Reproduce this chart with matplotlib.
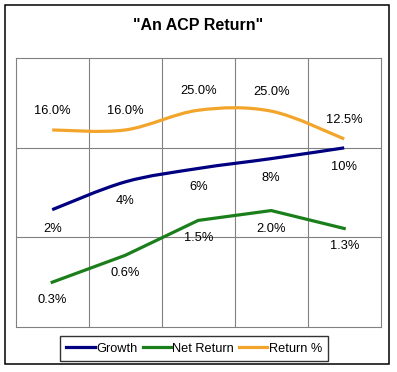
import numpy as np
import matplotlib
matplotlib.use("Agg")
import matplotlib.pyplot as plt
from matplotlib.patches import Rectangle
from matplotlib.path import Path
from matplotlib.patches import PathPatch

plt.rcParams['font.family'] = ['Liberation Sans', 'DejaVu Sans']

categories = ["1", "2", "3", "4", "5"]
# plotted positions (chart units)
growth = [1.31, 1.62, 1.77, 1.88, 2.00]
net_return = [0.50, 0.80, 1.19, 1.30, 1.10]
return_pct = [2.20, 2.20, 2.42, 2.41, 2.10]
# data labels
growth_labels = ["2%", "4%", "6%", "8%", "10%"]
net_labels = ["0.3%", "0.6%", "1.5%", "2.0%", "1.3%"]
return_labels = ["16.0%", "16.0%", "25.0%", "25.0%", "12.5%"]

C_GROWTH = "#000080"
C_NET = "#1a7f1a"
C_RET = "#F2A52A"

W, H = 397, 372
fig = plt.figure(figsize=(W / 100, H / 100), dpi=100)
ax = fig.add_axes([15.7 / W, 1 - 327 / H, (380.7 - 15.7) / W, (327 - 58.3) / H])

x = np.arange(len(categories))


def smooth_path(xs, ys):
    xs = np.asarray(xs, float); ys = np.asarray(ys, float)
    P = np.column_stack([xs, ys])
    n = len(P)
    verts = [P[0]]
    codes = [Path.MOVETO]
    for i in range(n - 1):
        p0 = P[i - 1] if i > 0 else P[i]
        p1 = P[i]
        p2 = P[i + 1]
        p3 = P[i + 2] if i + 2 < n else P[i + 1]
        c1 = p1 + (p2 - p0) / 6.0
        c2 = p2 - (p3 - p1) / 6.0
        verts += [c1, c2, p2]
        codes += [Path.CURVE4] * 3
    return Path(verts, codes)


lw = 2.3
ax.add_patch(PathPatch(smooth_path(x, return_pct), fill=False, edgecolor=C_RET, lw=lw, capstyle='butt', zorder=3))
ax.add_patch(PathPatch(smooth_path(x, growth), fill=False, edgecolor=C_GROWTH, lw=lw, capstyle='butt', zorder=3))
ax.plot(x, net_return, color=C_NET, lw=lw, solid_joinstyle='miter', zorder=3)

# legend proxies
ax.plot([], [], color=C_GROWTH, lw=lw, label="Growth")
ax.plot([], [], color=C_NET, lw=lw, label="Net Return")
ax.plot([], [], color=C_RET, lw=lw, label="Return %")

fs = 9.3
for xi, yi, t in zip(x, return_pct, return_labels):
    ax.annotate(t, (xi, yi), xytext=(0, 19), textcoords='offset pixels', ha='center', va='center', fontsize=fs)
for xi, yi, t in zip(x, growth, growth_labels):
    ax.annotate(t, (xi, yi), xytext=(0, -19), textcoords='offset pixels', ha='center', va='center', fontsize=fs)
for xi, yi, t in zip(x, net_return, net_labels):
    ax.annotate(t, (xi, yi), xytext=(0, -18), textcoords='offset pixels', ha='center', va='center', fontsize=fs)

ax.set_xlim(-0.5, len(categories) - 0.5)
ax.set_ylim(0, 3)
ax.set_xticks(np.arange(len(categories) - 1) + 0.5)
ax.set_yticks([1, 2])
ax.tick_params(length=0, labelbottom=False, labelleft=False)
ax.grid(True, color="#808080", lw=0.8)
for s in ax.spines.values():
    s.set_color("#808080")
    s.set_linewidth(0.8)

fig.text(197.7 / W, 1 - 25.7 / H, '"An ACP Return"', ha='center', va='center', fontsize=11.5, fontweight='bold')

leg = fig.legend(loc='center', bbox_to_anchor=(194.2 / W, 1 - 348.7 / H), ncol=3, fontsize=9.2,
                 frameon=True, fancybox=False, edgecolor='black', handlelength=2.2,
                 handletextpad=0.12, columnspacing=0.4, borderpad=0.5, borderaxespad=0)
leg.get_frame().set_linewidth(1.0)

fig.add_artist(Rectangle((5 / W, 1 - 364 / H), 384 / W, 359 / H, transform=fig.transFigure,
                         fill=False, edgecolor='black', lw=1.1))

fig.savefig("out.png", dpi=100)
